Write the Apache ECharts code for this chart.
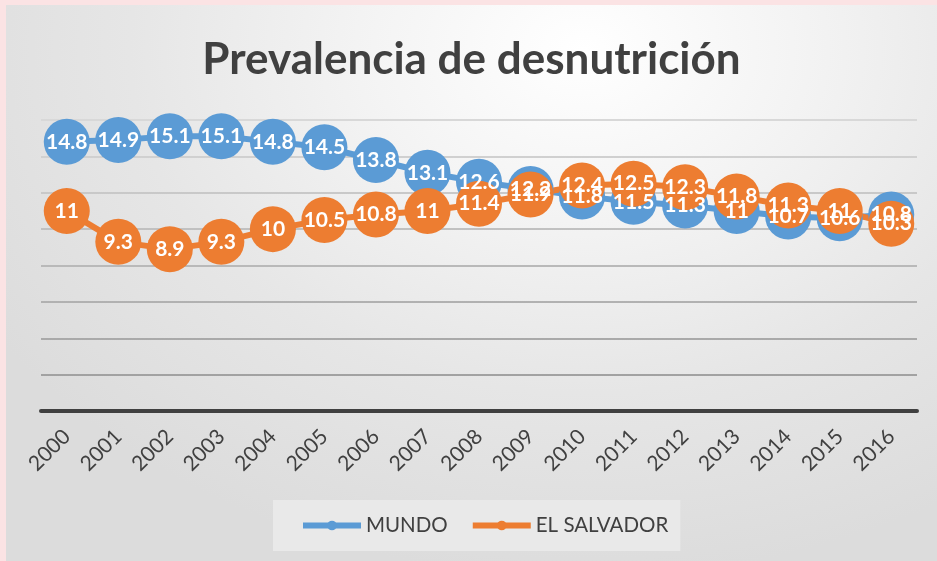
<!DOCTYPE html>
<html>
<head>
<meta charset="utf-8">
<script src="https://cdn.jsdelivr.net/npm/echarts@6/dist/echarts.min.js"></script>
<style>
  html, body { margin: 0; padding: 0; }
  #page { position: relative; width: 937px; height: 561px; background: #fbe3e4; overflow: hidden; }
  #chart { position: absolute; left: 6px; top: 5px; width: 931px; height: 556px;
    background: radial-gradient(ellipse 75% 95% at 62% 8%, #ffffff 0%, #f4f4f4 30%, #e6e6e6 65%, #dcdcdc 100%); }
</style>
</head>
<body>
<div id="page"><div id="chart"></div></div>
<script>
const titleText = 'Prevalencia de desnutrición';
const years = ['2000','2001','2002','2003','2004','2005','2006','2007','2008','2009','2010','2011','2012','2013','2014','2015','2016'];
const mundo = [14.8, 14.9, 15.1, 15.1, 14.8, 14.5, 13.8, 13.1, 12.6, 12.2, 11.8, 11.5, 11.3, 11, 10.7, 10.6, 10.8];
const elSalvador = [11, 9.3, 8.9, 9.3, 10, 10.5, 10.8, 11, 11.4, 11.9, 12.4, 12.5, 12.3, 11.8, 11.3, 11, 10.3];
const seriesNames = ['MUNDO', 'EL SALVADOR'];
const colors = ['#5b9bd5', '#ed7d31'];

const chart = echarts.init(document.getElementById('chart'), null, { renderer: 'canvas' });

function mkSeries(name, data, color) {
  return {
    name: name,
    type: 'line',
    data: data,
    symbol: 'circle',
    symbolSize: 46,
    lineStyle: { color: color, width: 6 },
    itemStyle: { color: color },
    label: {
      show: true,
      position: 'inside',
      color: '#ffffff',
      fontFamily: 'Lato',
      fontWeight: 'bold',
      fontSize: 21
    },
    emphasis: { disabled: true },
    animation: false
  };
}

chart.setOption({
  animation: false,
  title: {
    text: titleText,
    left: 'center',
    top: 28,
    textStyle: { fontFamily: 'Lato', fontWeight: 'bold', fontSize: 44, color: '#404040' }
  },
  legend: {
    data: seriesNames,
    left: 267,
    top: 495,
    backgroundColor: '#e9e9e9',
    padding: [15, 12, 15, 27],
    itemGap: 22,
    itemWidth: 58,
    itemHeight: 12,
    lineStyle: { width: 6 },
    textStyle: { fontFamily: 'Lato', fontSize: 20.5, color: '#404040' }
  },
  grid: { left: 35, right: 20, top: 115, bottom: 150, containLabel: false },
  xAxis: {
    type: 'category',
    data: years,
    boundaryGap: true,
    axisLine: { lineStyle: { color: '#404040', width: 4 } },
    axisTick: { show: false },
    axisLabel: {
      rotate: 45,
      margin: 22,
      interval: 0,
      fontFamily: 'Lato',
      fontSize: 21,
      color: '#404040'
    }
  },
  yAxis: {
    type: 'value',
    min: 0,
    max: 16,
    interval: 2,
    axisLine: { show: false },
    axisTick: { show: false },
    axisLabel: { show: false },
    splitLine: {
      lineStyle: {
        width: 2,
        color: {
          type: 'linear', x: 0, y: 115, x2: 0, y2: 406, global: true,
          colorStops: [{ offset: 0, color: '#d8d8d8' }, { offset: 1, color: '#9a9a9a' }]
        }
      }
    }
  },
  series: [
    mkSeries(seriesNames[0], mundo, colors[0]),
    mkSeries(seriesNames[1], elSalvador, colors[1])
  ]
});
</script>
</body>
</html>
